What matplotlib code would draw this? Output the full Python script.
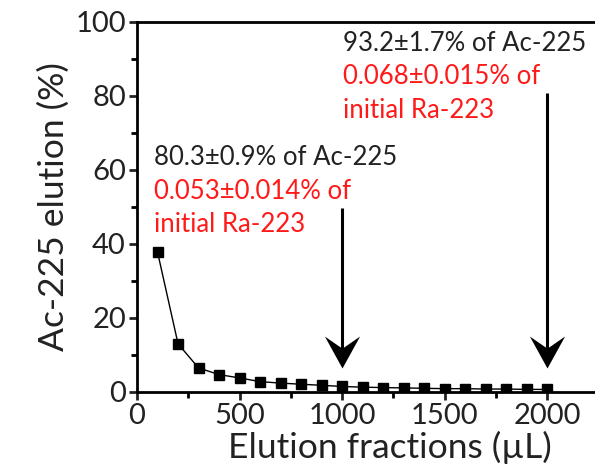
import matplotlib.pyplot as plt
from matplotlib.ticker import MultipleLocator
from matplotlib.path import Path

# elution fractions (uL) and Ac-225 elution (%)
volume = [100, 200, 300, 400, 500, 600, 700, 800, 900, 1000,
          1100, 1200, 1300, 1400, 1500, 1600, 1700, 1800, 1900, 2000]
elution = [37.8, 13.0, 6.5, 4.7, 3.8, 2.8, 2.4, 2.1, 1.8, 1.5,
           1.3, 1.2, 1.1, 1.0, 0.9, 0.9, 0.8, 0.8, 0.7, 0.7]

arrow_x = [1000, 2000]
arrow_top = [49.7, 80.8]
arrow_tip = 6.5

plt.rcParams['font.family'] = ['Lato', 'DejaVu Sans']

fig = plt.figure(figsize=(5.95, 4.72), dpi=100)
ax = fig.add_axes([0.2303, 0.1695, 0.85, 0.7839])

ax.plot(volume, elution, color='black', lw=1, marker='s', ms=7.5, mfc='black', mec='black')

# swept-back arrow head, tip at the marker origin
head = Path([(0, 0), (-0.55, 1.0), (0, 0.62), (0.55, 1.0), (0, 0)],
            [Path.MOVETO, Path.LINETO, Path.LINETO, Path.LINETO, Path.CLOSEPOLY])
for xa, ya in zip(arrow_x, arrow_top):
    ax.plot([xa, xa], [ya, arrow_tip + 5], color='black', lw=2.2, solid_capstyle='butt')
    ax.plot([xa], [arrow_tip], marker=head, ms=46, color='black', mew=0)

fs = 18.5
ax.text(83, 63.4, '80.3±0.9% of Ac-225', color='#222222', fontsize=fs, va='center')
ax.text(83, 54.3, '0.053±0.014% of', color='#ff1a1a', fontsize=fs, va='center')
ax.text(83, 45.4, 'initial Ra-223', color='#ff1a1a', fontsize=fs, va='center')
ax.text(1005, 94.3, '93.2±1.7% of Ac-225', color='#222222', fontsize=fs, va='center')
ax.text(1005, 85.4, '0.068±0.015% of', color='#ff1a1a', fontsize=fs, va='center')
ax.text(1005, 76.2, 'initial Ra-223', color='#ff1a1a', fontsize=fs, va='center')

ax.set_xlim(0, 2465)
ax.set_ylim(0, 100)
ax.xaxis.set_major_locator(MultipleLocator(500))
ax.xaxis.set_minor_locator(MultipleLocator(250))
ax.yaxis.set_major_locator(MultipleLocator(20))
ax.yaxis.set_minor_locator(MultipleLocator(10))
ax.tick_params(which='major', direction='out', length=6, width=2, labelsize=21, colors='#222222', pad=2)
ax.tick_params(which='minor', direction='out', length=4, width=2)
for s in ax.spines.values():
    s.set_linewidth(2)
ax.spines['right'].set_visible(False)

ax.set_xlabel('Elution fractions (µL)', fontsize=25.5, color='#222222', labelpad=1)
ax.set_ylabel('Ac-225 elution (%)', fontsize=25.5, color='#222222', labelpad=4)

fig.savefig('out.png', dpi=100)
